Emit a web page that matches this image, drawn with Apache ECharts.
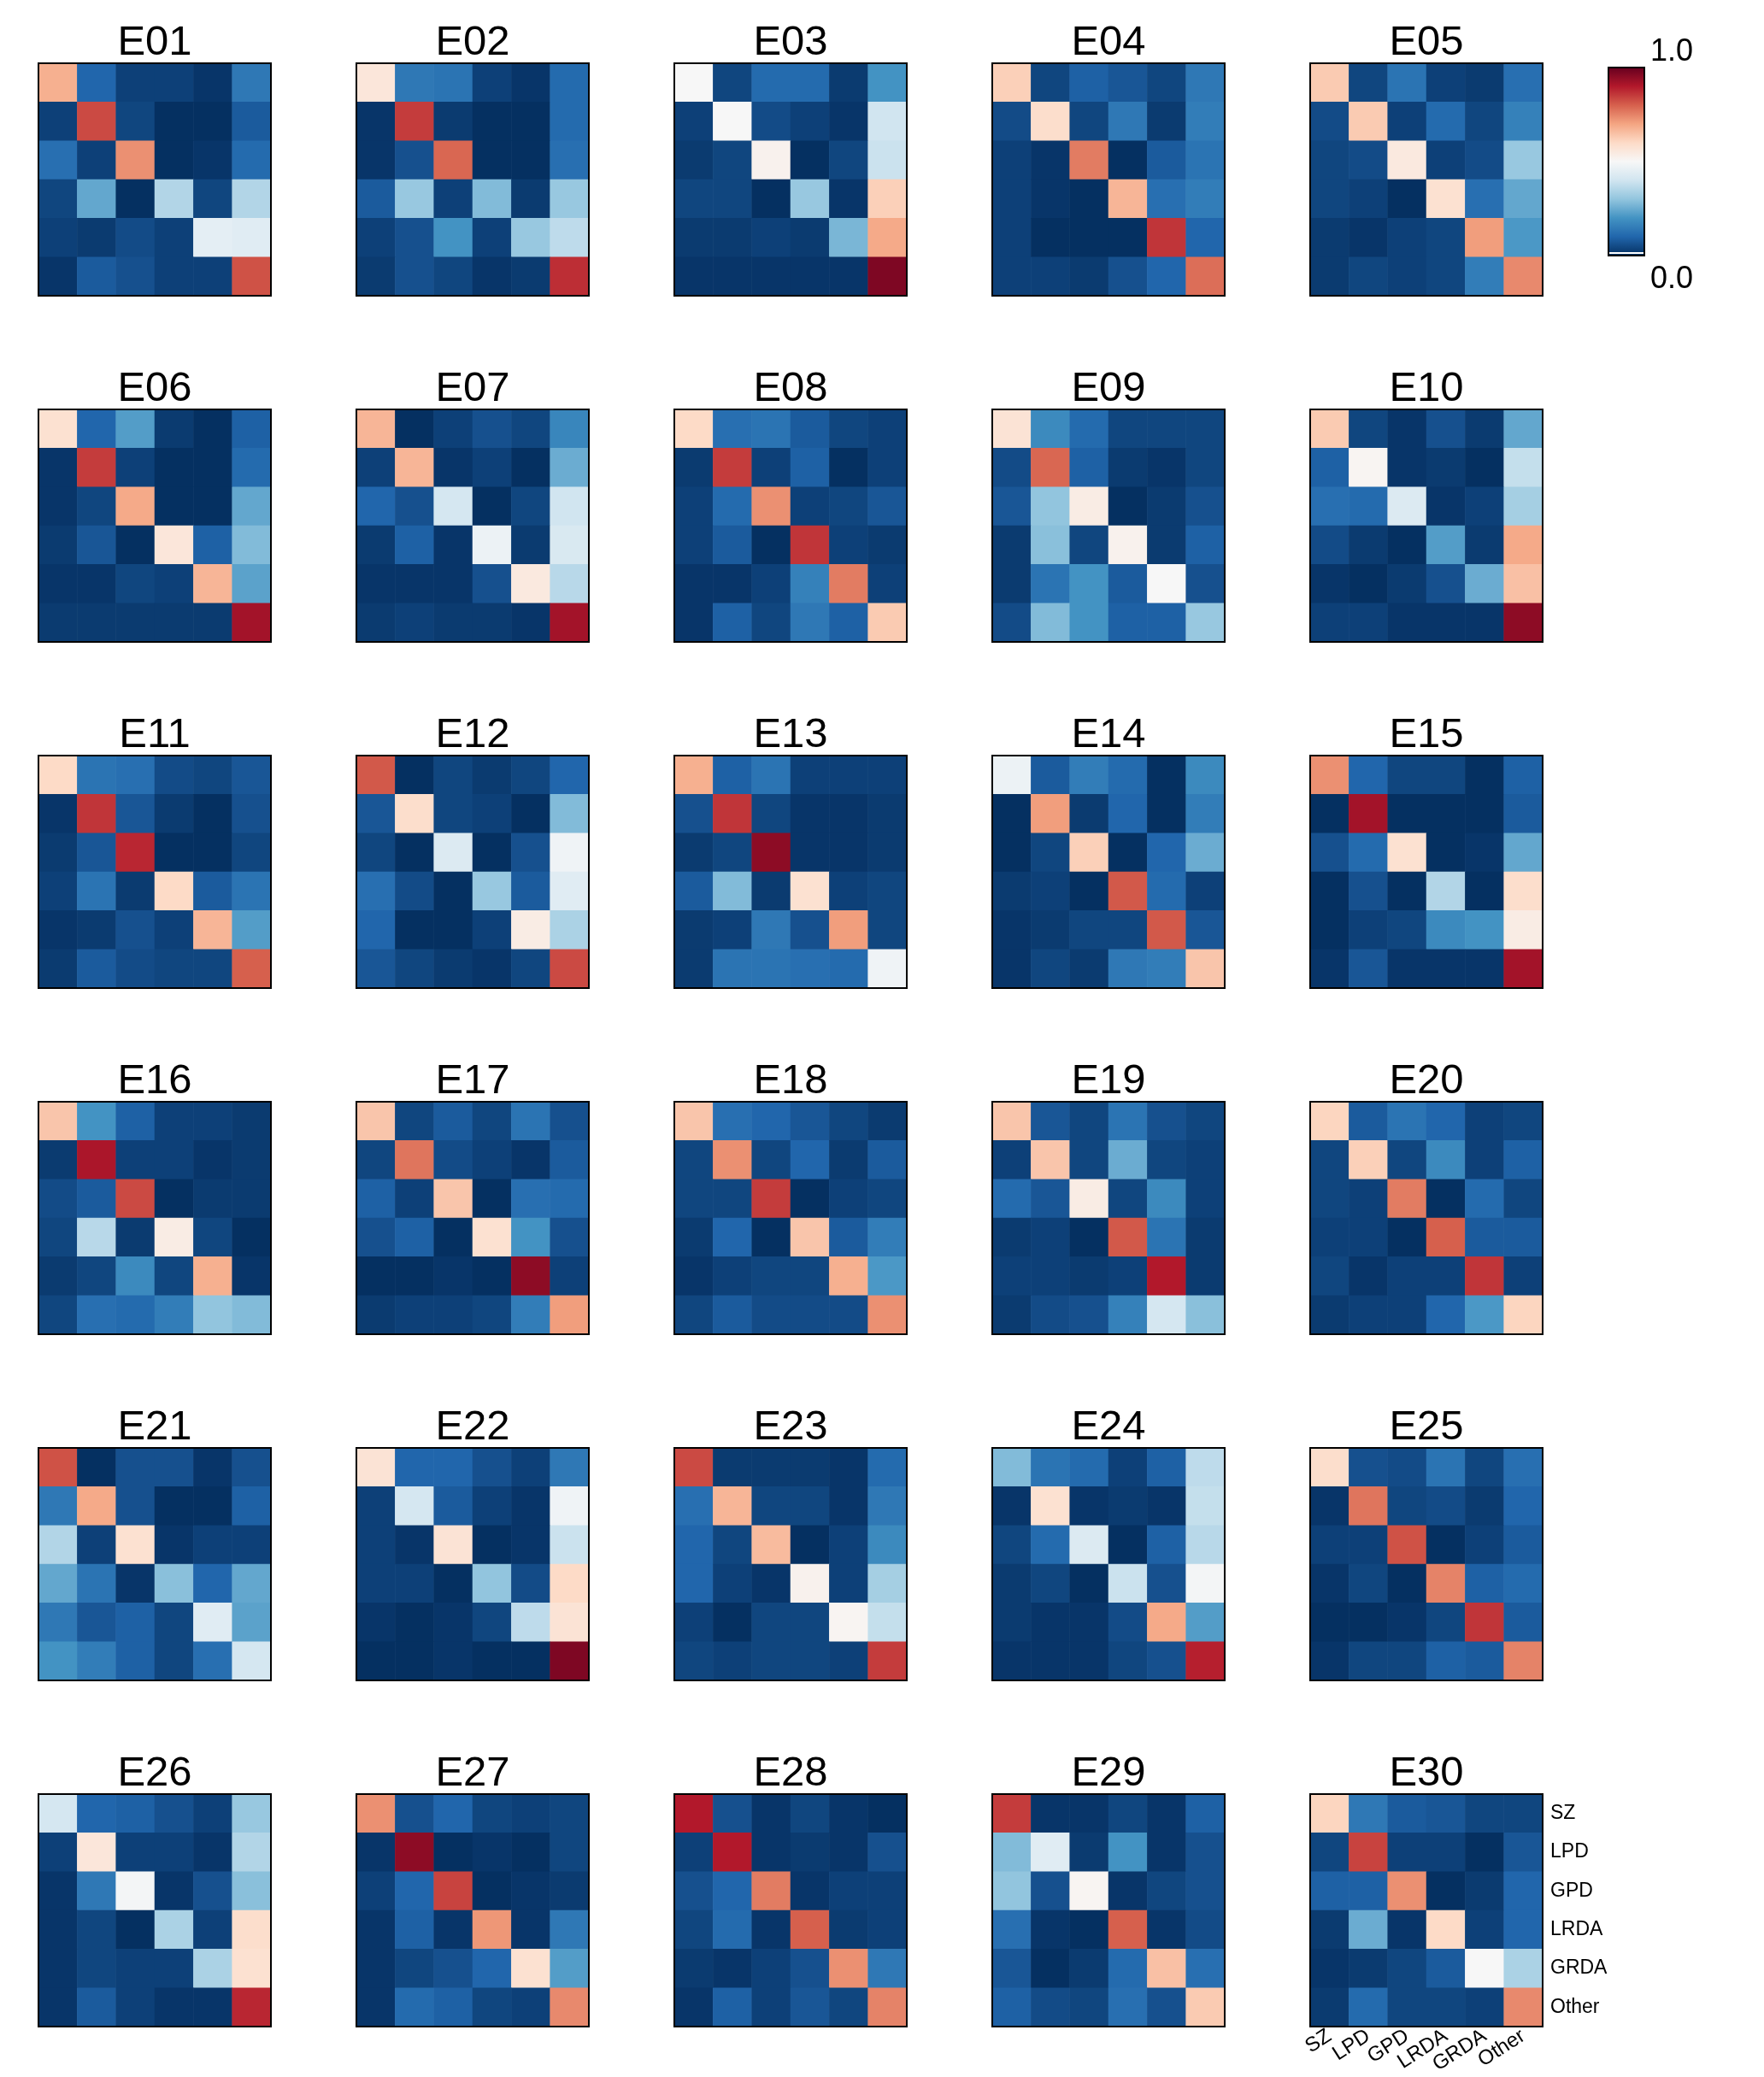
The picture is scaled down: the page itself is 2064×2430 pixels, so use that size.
<!DOCTYPE html>
<html><head><meta charset="utf-8">
<script src="https://cdn.jsdelivr.net/npm/echarts@6/dist/echarts.min.js"></script>
<style>html,body{margin:0;padding:0;background:#fff}#c{width:2064px;height:2430px}</style>
</head><body><div id="c"></div>
<script>
const labels = ['SZ','LPD','GPD','LRDA','GRDA','Other'];
const names = ['E01','E02','E03','E04','E05','E06','E07','E08','E09','E10','E11','E12','E13','E14','E15','E16','E17','E18','E19','E20','E21','E22','E23','E24','E25','E26','E27','E28','E29','E30'];
const cbarTicks = ['1.0','0.0'];

const E01 = [[0.68,0.10,0.03,0.03,0.01,0.14],[0.03,0.83,0.04,0.00,0.00,0.08],[0.12,0.03,0.73,0.00,0.01,0.11],[0.04,0.24,0.00,0.35,0.04,0.35],[0.03,0.02,0.05,0.03,0.45,0.44],[0.01,0.08,0.06,0.03,0.03,0.82]];
const E02 = [[0.56,0.14,0.13,0.03,0.01,0.11],[0.01,0.85,0.02,0.00,0.00,0.11],[0.01,0.06,0.79,0.00,0.00,0.12],[0.08,0.31,0.03,0.28,0.02,0.31],[0.03,0.06,0.20,0.03,0.31,0.37],[0.02,0.06,0.04,0.01,0.02,0.87]];
const E03 = [[0.50,0.04,0.11,0.11,0.02,0.20],[0.03,0.50,0.05,0.03,0.01,0.40],[0.02,0.04,0.52,0.00,0.04,0.39],[0.04,0.04,0.00,0.31,0.01,0.62],[0.02,0.02,0.03,0.02,0.27,0.69],[0.01,0.01,0.01,0.01,0.01,0.97]];
const E04 = [[0.62,0.04,0.09,0.07,0.04,0.14],[0.05,0.59,0.04,0.14,0.02,0.15],[0.03,0.01,0.76,0.00,0.08,0.13],[0.03,0.01,0.00,0.67,0.12,0.15],[0.03,0.00,0.00,0.00,0.86,0.10],[0.03,0.03,0.02,0.06,0.10,0.78]];
const E05 = [[0.63,0.04,0.13,0.03,0.02,0.12],[0.05,0.63,0.03,0.11,0.04,0.16],[0.04,0.05,0.55,0.03,0.05,0.31],[0.04,0.03,0.00,0.58,0.12,0.24],[0.02,0.01,0.03,0.04,0.71,0.21],[0.02,0.04,0.03,0.04,0.15,0.74]];
const E06 = [[0.58,0.10,0.22,0.02,0.00,0.09],[0.01,0.85,0.03,0.00,0.00,0.11],[0.01,0.04,0.69,0.00,0.00,0.24],[0.02,0.07,0.00,0.56,0.09,0.28],[0.01,0.01,0.04,0.03,0.67,0.23],[0.02,0.02,0.02,0.02,0.02,0.92]];
const E07 = [[0.67,0.00,0.03,0.06,0.04,0.17],[0.03,0.67,0.01,0.03,0.00,0.25],[0.10,0.06,0.41,0.00,0.04,0.40],[0.02,0.09,0.01,0.47,0.02,0.42],[0.01,0.01,0.01,0.06,0.55,0.36],[0.02,0.03,0.02,0.02,0.01,0.92]];
const E08 = [[0.60,0.12,0.13,0.08,0.04,0.03],[0.02,0.85,0.03,0.09,0.00,0.03],[0.03,0.11,0.73,0.03,0.04,0.07],[0.03,0.08,0.00,0.86,0.03,0.02],[0.01,0.01,0.03,0.16,0.76,0.03],[0.01,0.09,0.04,0.14,0.09,0.63]];
const E09 = [[0.57,0.18,0.11,0.04,0.04,0.04],[0.05,0.79,0.09,0.02,0.01,0.04],[0.07,0.30,0.54,0.00,0.02,0.06],[0.02,0.29,0.04,0.52,0.02,0.09],[0.02,0.13,0.20,0.08,0.50,0.06],[0.05,0.28,0.20,0.09,0.09,0.31]];
const E10 = [[0.63,0.04,0.01,0.06,0.02,0.24],[0.09,0.51,0.01,0.02,0.00,0.38],[0.12,0.11,0.43,0.01,0.03,0.33],[0.05,0.02,0.00,0.22,0.02,0.69],[0.01,0.00,0.02,0.06,0.25,0.65],[0.03,0.03,0.01,0.01,0.01,0.95]];
const E11 = [[0.60,0.13,0.12,0.05,0.04,0.07],[0.01,0.86,0.07,0.02,0.00,0.06],[0.02,0.07,0.88,0.00,0.00,0.04],[0.03,0.13,0.02,0.60,0.08,0.13],[0.01,0.02,0.06,0.03,0.67,0.22],[0.02,0.08,0.05,0.04,0.04,0.80]];
const E12 = [[0.81,0.00,0.04,0.02,0.04,0.10],[0.07,0.59,0.04,0.03,0.00,0.28],[0.04,0.00,0.43,0.00,0.06,0.48],[0.12,0.05,0.00,0.31,0.08,0.44],[0.10,0.00,0.00,0.03,0.54,0.34],[0.07,0.04,0.02,0.01,0.04,0.83]];
const E13 = [[0.68,0.09,0.13,0.03,0.03,0.03],[0.06,0.86,0.04,0.01,0.01,0.02],[0.02,0.04,0.95,0.01,0.01,0.02],[0.08,0.28,0.02,0.58,0.03,0.04],[0.02,0.03,0.14,0.06,0.71,0.04],[0.02,0.13,0.13,0.12,0.11,0.48]];
const E14 = [[0.47,0.08,0.15,0.11,0.00,0.18],[0.00,0.71,0.02,0.10,0.00,0.15],[0.00,0.04,0.62,0.00,0.10,0.25],[0.02,0.03,0.00,0.81,0.11,0.03],[0.01,0.02,0.04,0.04,0.81,0.07],[0.01,0.04,0.02,0.14,0.15,0.64]];
const E15 = [[0.73,0.10,0.04,0.04,0.00,0.09],[0.00,0.92,0.00,0.00,0.00,0.08],[0.06,0.11,0.58,0.00,0.01,0.24],[0.00,0.06,0.00,0.35,0.00,0.59],[0.00,0.03,0.04,0.18,0.20,0.54],[0.01,0.07,0.01,0.01,0.01,0.92]];
const E16 = [[0.64,0.20,0.09,0.03,0.03,0.02],[0.02,0.91,0.03,0.03,0.01,0.02],[0.05,0.08,0.83,0.00,0.02,0.02],[0.04,0.36,0.02,0.54,0.04,0.00],[0.02,0.04,0.18,0.04,0.68,0.01],[0.04,0.12,0.11,0.15,0.30,0.28]];
const E17 = [[0.64,0.04,0.08,0.04,0.13,0.06],[0.04,0.77,0.05,0.03,0.01,0.08],[0.09,0.03,0.64,0.00,0.12,0.11],[0.06,0.09,0.00,0.58,0.20,0.06],[0.00,0.00,0.01,0.00,0.95,0.03],[0.02,0.03,0.03,0.04,0.15,0.71]];
const E18 = [[0.64,0.12,0.10,0.07,0.04,0.02],[0.04,0.73,0.04,0.10,0.02,0.08],[0.04,0.04,0.85,0.00,0.03,0.04],[0.02,0.10,0.00,0.64,0.08,0.15],[0.01,0.03,0.04,0.04,0.68,0.21],[0.04,0.08,0.05,0.05,0.05,0.73]];
const E19 = [[0.64,0.07,0.04,0.13,0.06,0.04],[0.03,0.64,0.04,0.25,0.04,0.03],[0.11,0.07,0.54,0.04,0.18,0.03],[0.02,0.03,0.00,0.81,0.13,0.02],[0.03,0.03,0.02,0.03,0.90,0.02],[0.02,0.05,0.06,0.16,0.41,0.29]];
const E20 = [[0.61,0.08,0.13,0.10,0.03,0.04],[0.04,0.62,0.04,0.18,0.03,0.09],[0.04,0.03,0.76,0.00,0.11,0.04],[0.03,0.03,0.00,0.80,0.08,0.08],[0.04,0.01,0.03,0.03,0.86,0.03],[0.02,0.03,0.03,0.10,0.21,0.61]];
const E21 = [[0.82,0.00,0.06,0.06,0.01,0.06],[0.14,0.69,0.06,0.00,0.00,0.09],[0.35,0.03,0.58,0.01,0.03,0.03],[0.24,0.13,0.01,0.29,0.10,0.24],[0.14,0.07,0.09,0.04,0.44,0.23],[0.20,0.15,0.09,0.04,0.12,0.41]];
const E22 = [[0.57,0.10,0.10,0.06,0.03,0.14],[0.03,0.41,0.08,0.03,0.01,0.48],[0.03,0.01,0.57,0.00,0.01,0.39],[0.03,0.03,0.00,0.30,0.05,0.60],[0.01,0.00,0.01,0.04,0.37,0.57],[0.00,0.00,0.01,0.00,0.00,0.97]];
const E23 = [[0.83,0.02,0.02,0.02,0.01,0.11],[0.12,0.67,0.04,0.04,0.01,0.14],[0.10,0.04,0.66,0.00,0.03,0.18],[0.10,0.03,0.01,0.52,0.03,0.33],[0.03,0.00,0.04,0.04,0.51,0.38],[0.04,0.03,0.04,0.04,0.03,0.85]];
const E24 = [[0.28,0.13,0.11,0.03,0.09,0.37],[0.01,0.58,0.01,0.02,0.01,0.38],[0.04,0.11,0.43,0.00,0.09,0.36],[0.02,0.04,0.00,0.39,0.06,0.49],[0.02,0.01,0.01,0.05,0.69,0.22],[0.01,0.01,0.01,0.04,0.06,0.89]];
const E25 = [[0.59,0.06,0.05,0.13,0.04,0.12],[0.01,0.77,0.04,0.05,0.02,0.10],[0.03,0.03,0.82,0.00,0.03,0.08],[0.01,0.04,0.00,0.75,0.09,0.11],[0.00,0.00,0.01,0.04,0.86,0.08],[0.01,0.04,0.04,0.09,0.08,0.75]];
const E26 = [[0.41,0.10,0.09,0.06,0.03,0.31],[0.03,0.56,0.03,0.03,0.01,0.35],[0.01,0.14,0.49,0.01,0.06,0.29],[0.01,0.04,0.00,0.34,0.03,0.59],[0.01,0.04,0.03,0.03,0.34,0.58],[0.01,0.08,0.03,0.01,0.01,0.88]];
const E27 = [[0.73,0.06,0.10,0.04,0.03,0.04],[0.01,0.95,0.00,0.01,0.00,0.04],[0.03,0.10,0.84,0.00,0.01,0.02],[0.01,0.09,0.01,0.72,0.01,0.14],[0.01,0.04,0.06,0.10,0.58,0.22],[0.01,0.11,0.09,0.04,0.03,0.74]];
const E28 = [[0.90,0.06,0.01,0.04,0.01,0.00],[0.03,0.90,0.01,0.02,0.01,0.06],[0.06,0.10,0.76,0.01,0.03,0.03],[0.04,0.11,0.01,0.80,0.02,0.03],[0.02,0.01,0.03,0.06,0.73,0.14],[0.01,0.09,0.03,0.07,0.04,0.75]];
const E29 = [[0.85,0.01,0.01,0.04,0.01,0.09],[0.28,0.44,0.02,0.20,0.01,0.06],[0.30,0.06,0.51,0.01,0.04,0.06],[0.12,0.01,0.00,0.80,0.01,0.05],[0.07,0.00,0.02,0.11,0.65,0.12],[0.09,0.05,0.04,0.12,0.06,0.63]];
const E30 = [[0.61,0.14,0.08,0.07,0.04,0.04],[0.04,0.84,0.03,0.03,0.00,0.07],[0.09,0.09,0.73,0.00,0.02,0.10],[0.02,0.25,0.01,0.60,0.03,0.10],[0.01,0.02,0.04,0.08,0.50,0.34],[0.02,0.11,0.04,0.04,0.03,0.74]];

const matrices = [E01,E02,E03,E04,E05,E06,E07,E08,E09,E10,E11,E12,E13,E14,E15,E16,E17,E18,E19,E20,E21,E22,E23,E24,E25,E26,E27,E28,E29,E30];
const RdBu_r = ['#053061','#2166ac','#4393c3','#92c5de','#d1e5f0','#f7f7f7','#fddbc7','#f4a582','#d6604d','#b2182b','#67001f'];

const L0 = 45, T0 = 74, DX = 372, DY = 405, S = 272;
const FONT = 'Liberation Sans, Arial, sans-serif';

const grids = [], xAxes = [], yAxes = [], series = [], graphics = [];
matrices.forEach((m, i) => {
  const r = Math.floor(i / 5), c = i % 5;
  const left = L0 + c * DX, top = T0 + r * DY;
  const last = i === matrices.length - 1;
  grids.push({left, top, width: S, height: S, show: true, borderColor: '#000', borderWidth: 2, backgroundColor: 'transparent', z: 5});
  xAxes.push({type: 'category', gridIndex: i, data: labels, axisLine: {show: false}, axisTick: {show: false}, splitLine: {show: false},
    axisLabel: {show: last, rotate: 33, fontSize: 24, color: '#000', margin: 9, interval: 0, fontFamily: FONT}});
  yAxes.push({type: 'category', gridIndex: i, data: labels, inverse: true, position: 'right', axisLine: {show: false}, axisTick: {show: false}, splitLine: {show: false},
    axisLabel: {show: last, fontSize: 23, color: '#000', margin: 9, interval: 0, fontFamily: FONT}});
  const d = [];
  m.forEach((row, ri) => row.forEach((v, ci) => d.push([ci, ri, v])));
  series.push({type: 'heatmap', xAxisIndex: i, yAxisIndex: i, data: d, z: 2, itemStyle: {borderWidth: 0}, emphasis: {disabled: true}});
  graphics.push({type: 'text', x: left + S / 2, y: top - 24, style: {text: names[i], align: 'center', verticalAlign: 'middle', font: '49px ' + FONT, fill: '#000'}});
});

// colorbar
const CB = {x: 1882, y: 79, w: 42, h: 220};
graphics.push({type: 'rect', shape: {x: CB.x, y: CB.y, width: CB.w, height: CB.h},
  style: {fill: {type: 'linear', x: 0, y: 1, x2: 0, y2: 0, colorStops: RdBu_r.map((col, k) => ({offset: k / (RdBu_r.length - 1), color: col}))}, stroke: null}});
graphics.push({type: 'rect', shape: {x: CB.x, y: CB.y + CB.h - 4, width: CB.w, height: 2}, style: {fill: '#fff'}});
graphics.push({type: 'rect', shape: {x: CB.x, y: CB.y, width: CB.w, height: CB.h}, style: {fill: 'transparent', stroke: '#000', lineWidth: 2}});
graphics.push({type: 'text', x: 1931, y: 61, style: {text: cbarTicks[0], align: 'left', verticalAlign: 'middle', font: '36px ' + FONT, fill: '#000'}});
graphics.push({type: 'text', x: 1931, y: 327, style: {text: cbarTicks[1], align: 'left', verticalAlign: 'middle', font: '36px ' + FONT, fill: '#000'}});

const chart = echarts.init(document.getElementById('c'), null, {renderer: 'canvas'});
chart.setOption({
  animation: false,
  backgroundColor: '#fff',
  grid: grids, xAxis: xAxes, yAxis: yAxes, series,
  visualMap: {show: false, type: 'continuous', min: 0, max: 1, dimension: 2, seriesIndex: series.map((_, k) => k), inRange: {color: RdBu_r}},
  graphic: graphics
});
</script></body></html>
